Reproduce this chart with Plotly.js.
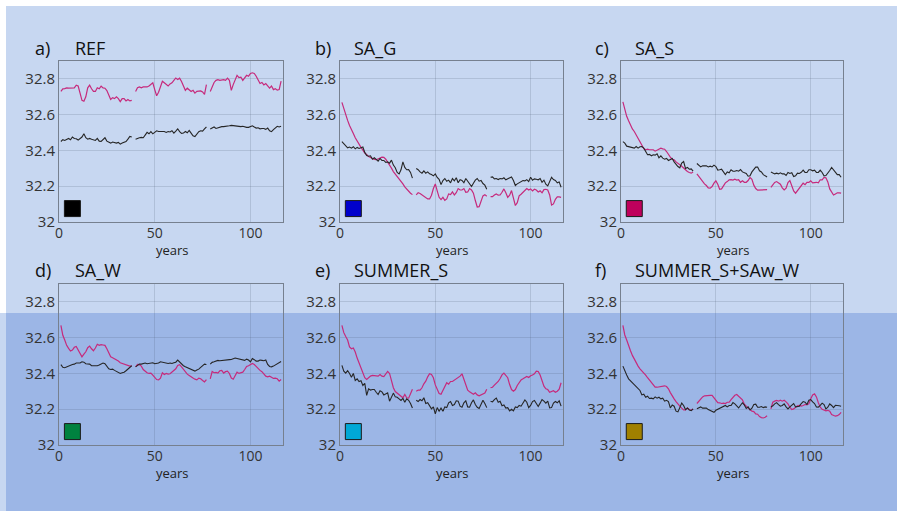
<!DOCTYPE html>
<html><head><meta charset="utf-8">
<script src="https://cdn.plot.ly/plotly-3.0.1.min.js"></script>
<style>html,body{margin:0;padding:0;background:#fff;}#chart{width:897px;height:511px;}</style>
</head><body><div id="chart"></div>
<script>
// ---------- data ----------
const years = Array.from({length:116},(_,i)=>i+1);
const panelLetters = ['a)','b)','c)','d)','e)','f)'];
const panelNames = ['REF','SA_G','SA_S','SA_W','SUMMER_S','SUMMER_S+SAw_W'];
const squareColors = ['#000000','#0000cc','#bf005c','#00823f','#00a8d6','#a08000'];
const squareX = [7,7,7,7,7,7];
const squareY = [32.075,32.075,32.075,32.075,32.075,32.075];
const xTickVals = [0,50,100];
const xTickText = ['0','50','100'];
const yTickVals = [32,32.2,32.4,32.6,32.8];
const yTickText = ['32','32.2','32.4','32.6','32.8'];

const refP = [32.73,32.744,32.746,32.75,32.748,32.748,32.75,32.75,32.765,32.76,
32.72,32.68,32.675,32.70,32.75,32.765,32.745,32.73,32.73,32.75,
32.745,32.76,32.75,32.748,32.735,32.71,32.685,32.695,32.69,32.70,
32.69,32.673,32.69,32.69,32.677,32.685,32.677,32.68,null,32.73,
32.75,32.755,32.75,32.755,32.753,32.755,32.76,32.77,32.778,32.74,
32.706,32.725,32.76,32.787,32.778,32.768,32.76,32.772,32.778,32.792,
32.805,32.796,32.804,32.785,32.762,32.736,32.748,32.736,32.73,32.736,
32.72,32.73,32.73,32.733,32.727,32.714,32.768,null,32.73,32.76,
32.78,32.792,32.796,32.792,32.796,32.796,32.792,32.804,32.792,32.736,
32.768,32.8,32.82,32.807,32.81,32.792,32.805,32.82,32.815,32.83,
32.834,32.83,32.815,32.796,32.774,32.78,32.766,32.774,32.76,32.748,
32.76,32.74,32.745,32.737,32.74,32.787];
const refK = [32.45,32.46,32.456,32.463,32.467,32.46,32.475,32.467,32.465,32.458,
32.467,32.475,32.493,32.471,32.463,32.467,32.462,32.46,32.456,32.467,
32.452,32.45,32.463,32.471,32.452,32.445,32.441,32.447,32.445,32.441,
32.445,32.435,32.441,32.445,32.45,32.463,32.478,32.475,null,32.463,
32.469,32.471,32.473,32.471,32.486,32.501,32.493,32.505,32.493,32.503,
32.51,32.506,32.508,32.506,32.506,32.501,32.506,32.503,32.51,32.497,
32.508,32.521,32.505,32.495,32.497,32.506,32.499,32.512,32.497,32.482,
32.478,32.492,32.505,32.51,32.508,32.521,32.531,null,32.52,32.525,
32.531,32.523,32.527,32.531,32.533,32.533,32.536,32.538,32.538,32.54,
32.538,32.536,32.538,32.535,32.533,32.535,32.531,32.529,32.529,32.533,
32.538,32.531,32.525,32.527,32.521,32.523,32.523,32.518,32.525,32.51,
32.505,32.516,32.523,32.535,32.531,32.535];
const sagP = [32.669,32.632,32.591,32.568,32.54,32.52,32.495,32.471,32.45,32.432,
32.417,32.402,32.385,32.378,32.366,32.361,32.355,32.35,32.348,32.351,
32.357,32.363,32.361,32.351,32.336,32.32,32.301,32.282,32.269,32.256,
32.241,32.228,32.213,32.196,32.183,32.174,32.161,32.153,null,32.151,
32.164,32.159,32.151,32.144,32.136,32.129,32.129,32.15,32.187,32.213,
32.174,32.138,32.125,32.138,32.121,32.129,32.157,32.153,32.168,32.151,
32.164,32.187,32.179,32.179,32.187,32.166,32.168,32.187,32.179,32.161,
32.12,32.084,32.086,32.114,32.146,32.153,32.144,null,32.142,32.142,
32.151,32.157,32.15,32.151,32.166,32.185,32.164,32.138,32.15,32.176,
32.133,32.092,32.108,32.146,32.155,32.164,32.176,32.187,32.179,32.185,
32.174,32.183,32.179,32.168,32.174,32.163,32.181,32.183,32.179,32.151,
32.095,32.101,32.127,32.14,32.14,32.138];
const sagK = [32.449,32.437,32.426,32.415,32.419,32.413,32.421,32.409,32.417,32.411,
32.415,32.419,32.389,32.372,32.368,32.37,32.351,32.359,32.35,32.34,
32.355,32.344,32.344,32.333,32.336,32.329,32.346,32.318,32.303,32.277,
32.269,32.292,32.336,32.305,32.292,32.293,32.277,32.245,null,32.299,
32.292,32.28,32.273,32.286,32.273,32.28,32.269,32.265,32.258,32.269,
32.249,32.239,32.209,32.232,32.243,32.228,32.234,32.219,32.243,32.23,
32.247,32.219,32.237,32.232,32.219,32.243,32.228,32.211,32.198,32.217,
32.234,32.243,32.228,32.232,32.215,32.206,32.183,null,32.25,32.252,
32.241,32.243,32.237,32.243,32.241,32.247,32.236,32.241,32.249,32.252,
32.232,32.204,32.213,32.219,32.228,32.232,32.23,32.237,32.226,32.25,
32.234,32.241,32.239,32.236,32.243,32.222,32.234,32.211,32.202,32.228,
32.25,32.237,32.232,32.219,32.224,32.194];
const sasP = [32.671,32.628,32.591,32.566,32.54,32.52,32.506,32.488,32.467,32.447,
32.426,32.411,32.404,32.407,32.404,32.404,32.404,32.396,32.402,32.407,
32.413,32.409,32.407,32.394,32.376,32.363,32.351,32.348,32.336,32.325,
32.32,32.312,32.301,32.292,32.282,32.277,32.273,32.28,null,32.269,
32.254,32.245,32.23,32.213,32.204,32.191,32.189,32.198,32.217,32.23,
32.211,32.183,32.185,32.202,32.219,32.226,32.236,32.237,32.234,32.239,
32.234,32.236,32.222,32.23,32.222,32.222,32.232,32.249,32.239,32.206,
32.187,32.178,32.178,32.179,32.179,32.179,32.181,null,32.194,32.209,
32.221,32.226,32.217,32.211,32.191,32.179,32.189,32.221,32.232,32.207,
32.174,32.161,32.176,32.194,32.209,32.217,32.209,32.221,32.221,32.23,
32.219,32.221,32.222,32.219,32.236,32.236,32.249,32.247,32.224,32.185,
32.164,32.151,32.157,32.163,32.163,32.161];
const sasK = [32.449,32.441,32.424,32.422,32.419,32.419,32.413,32.422,32.413,32.421,
32.422,32.413,32.392,32.376,32.378,32.37,32.376,32.374,32.381,32.359,
32.37,32.357,32.351,32.355,32.344,32.348,32.355,32.336,32.321,32.31,
32.303,32.329,32.338,32.299,32.305,32.295,32.297,32.284,null,32.327,
32.32,32.308,32.314,32.314,32.314,32.308,32.312,32.308,32.318,32.31,
32.29,32.292,32.295,32.28,32.265,32.28,32.275,32.292,32.284,32.284,
32.288,32.284,32.293,32.28,32.275,32.271,32.256,32.258,32.28,32.292,
32.307,32.307,32.286,32.28,32.265,32.258,32.252,null,32.28,32.275,
32.269,32.273,32.269,32.275,32.269,32.269,32.26,32.277,32.271,32.275,
32.254,32.258,32.273,32.271,32.278,32.29,32.277,32.277,32.292,32.292,
32.286,32.29,32.277,32.277,32.29,32.277,32.258,32.26,32.271,32.288,
32.305,32.29,32.277,32.265,32.265,32.25];
const sawP = [32.669,32.613,32.587,32.557,32.54,32.525,32.531,32.546,32.551,32.531,
32.508,32.493,32.508,32.521,32.544,32.553,32.538,32.527,32.542,32.563,
32.557,32.561,32.559,32.557,32.538,32.512,32.493,32.488,32.482,32.477,
32.469,32.46,32.456,32.45,32.45,32.443,32.441,32.443,null,32.437,
32.45,32.449,32.441,32.422,32.411,32.404,32.4,32.402,32.391,32.378,
32.366,32.364,32.374,32.404,32.394,32.4,32.396,32.398,32.406,32.419,
32.426,32.445,32.449,32.437,32.422,32.407,32.396,32.389,32.379,32.374,
32.368,32.364,32.374,32.37,32.361,32.353,32.366,null,32.37,32.411,
32.404,32.406,32.402,32.415,32.417,32.402,32.41,32.413,32.4,32.374,
32.368,32.385,32.407,32.4,32.404,32.407,32.422,32.439,32.443,32.452,
32.456,32.45,32.439,32.424,32.417,32.41,32.394,32.385,32.381,32.385,
32.379,32.372,32.374,32.37,32.357,32.366];
const sawK = [32.449,32.434,32.432,32.437,32.441,32.445,32.45,32.452,32.458,32.458,
32.458,32.465,32.463,32.454,32.452,32.452,32.443,32.443,32.439,32.443,
32.447,32.452,32.458,32.454,32.437,32.426,32.422,32.424,32.417,32.411,
32.406,32.4,32.404,32.407,32.415,32.424,32.435,32.443,null,32.437,
32.445,32.452,32.452,32.456,32.458,32.454,32.456,32.456,32.46,32.454,
32.454,32.458,32.465,32.463,32.458,32.458,32.456,32.458,32.456,32.46,
32.463,32.475,32.463,32.45,32.443,32.437,32.432,32.426,32.422,32.417,
32.413,32.419,32.424,32.434,32.445,32.452,32.45,null,32.452,32.462,
32.465,32.469,32.473,32.471,32.473,32.473,32.477,32.475,32.477,32.478,
32.484,32.486,32.484,32.482,32.478,32.475,32.473,32.48,32.475,32.465,
32.484,32.477,32.469,32.469,32.475,32.473,32.471,32.475,32.45,32.439,
32.437,32.441,32.447,32.454,32.462,32.467];
const sumP = [32.669,32.628,32.606,32.587,32.548,32.538,32.542,32.52,32.486,32.46,
32.426,32.4,32.376,32.366,32.376,32.385,32.389,32.389,32.385,32.385,
32.394,32.385,32.383,32.396,32.411,32.4,32.361,32.32,32.299,32.29,
32.286,32.273,32.264,32.282,32.264,32.262,32.286,32.312,null,32.301,
32.307,32.307,32.32,32.342,32.357,32.381,32.398,32.394,32.376,32.336,
32.307,32.288,32.284,32.307,32.329,32.348,32.34,32.355,32.355,32.363,
32.368,32.376,32.385,32.398,32.37,32.338,32.307,32.297,32.292,32.284,
32.292,32.28,32.275,32.28,32.286,32.29,32.312,null,32.321,32.323,
32.335,32.344,32.355,32.372,32.392,32.402,32.391,32.376,32.338,32.31,
32.301,32.31,32.333,32.351,32.364,32.37,32.379,32.383,32.377,32.387,
32.391,32.398,32.413,32.411,32.391,32.359,32.329,32.314,32.31,32.295,
32.301,32.303,32.295,32.301,32.312,32.348];
const sumK = [32.445,32.413,32.402,32.415,32.4,32.379,32.4,32.361,32.37,32.355,
32.359,32.333,32.344,32.277,32.314,32.307,32.31,32.31,32.295,32.282,
32.303,32.297,32.28,32.288,32.292,32.245,32.269,32.29,32.269,32.267,
32.258,32.249,32.26,32.239,32.258,32.25,32.232,32.207,null,32.25,
32.243,32.254,32.247,32.264,32.232,32.236,32.221,32.202,32.213,32.174,
32.209,32.189,32.206,32.189,32.213,32.209,32.236,32.243,32.221,32.226,
32.247,32.245,32.217,32.211,32.236,32.247,32.213,32.211,32.236,32.252,
32.226,32.211,32.204,32.226,32.25,32.232,32.209,null,32.245,32.241,
32.254,32.262,32.239,32.245,32.219,32.224,32.206,32.209,32.191,32.2,
32.191,32.213,32.209,32.221,32.217,32.232,32.252,32.239,32.209,32.221,
32.243,32.249,32.23,32.215,32.234,32.254,32.245,32.234,32.245,32.207,
32.209,32.234,32.243,32.236,32.247,32.217];
const sswP = [32.669,32.615,32.587,32.553,32.527,32.501,32.478,32.458,32.441,32.426,
32.415,32.406,32.391,32.376,32.361,32.348,32.335,32.323,32.323,32.325,
32.329,32.329,32.331,32.327,32.314,32.293,32.273,32.258,32.243,32.228,
32.217,32.206,32.196,32.196,32.206,32.198,32.194,32.202,null,32.232,
32.245,32.258,32.269,32.275,32.277,32.277,32.277,32.277,32.264,32.25,
32.237,32.236,32.232,32.234,32.232,32.239,32.239,32.254,32.267,32.278,
32.282,32.273,32.264,32.252,32.228,32.215,32.206,32.198,32.189,32.187,
32.174,32.172,32.159,32.153,32.151,32.155,32.163,null,32.202,32.239,
32.245,32.249,32.245,32.25,32.245,32.25,32.241,32.23,32.211,32.198,
32.202,32.209,32.219,32.221,32.217,32.221,32.226,32.226,32.23,32.258,
32.28,32.286,32.269,32.236,32.211,32.2,32.196,32.191,32.194,32.189,
32.17,32.164,32.161,32.164,32.17,32.183];
const sswK = [32.441,32.413,32.391,32.37,32.359,32.351,32.338,32.331,32.318,32.305,
32.28,32.284,32.267,32.273,32.26,32.262,32.258,32.269,32.262,32.267,
32.258,32.262,32.245,32.25,32.243,32.207,32.224,32.217,32.189,32.185,
32.209,32.234,32.221,32.198,32.207,32.196,32.192,32.202,null,32.202,
32.207,32.213,32.206,32.206,32.207,32.198,32.194,32.189,32.183,32.194,
32.2,32.202,32.211,32.215,32.221,32.213,32.221,32.221,32.237,32.23,
32.217,32.207,32.222,32.236,32.224,32.204,32.213,32.196,32.206,32.226,
32.228,32.211,32.211,32.215,32.209,32.213,32.211,null,32.213,32.219,
32.23,32.237,32.226,32.217,32.221,32.23,32.213,32.202,32.213,32.224,
32.232,32.213,32.217,32.217,32.232,32.243,32.239,32.226,32.25,32.254,
32.241,32.232,32.213,32.211,32.222,32.234,32.226,32.202,32.211,32.23,
32.221,32.209,32.222,32.222,32.219,32.217];

const pinkSeries = [refP, sagP, sasP, sawP, sumP, sswP];
const blackSeries = [refK, sagK, sasK, sawK, sumK, sswK];

// ---------- layout / style ----------
const W = 897, H = 511;
const colL = [59, 340, 621], colR = [283, 563, 843];
const rowT = [61, 284], rowB = [222, 445];
const FONT = 'Open Sans, Noto Sans, sans-serif';
const pinkColor = '#c62a7c', blackColor = '#262626';
const frameColor = '#76808f', gridColor = 'rgba(80,95,120,0.2)';
const lightBg = '#c7d7f1', darkBg = '#9cb6e6';

const px = v => v / W, py = v => 1 - v / H;

const traces = [];
const layout = {
  width: W, height: H,
  margin: {l:0, r:0, t:0, b:0},
  paper_bgcolor: '#ffffff',
  plot_bgcolor: 'rgba(0,0,0,0)',
  showlegend: false,
  font: {family: FONT, color: '#333'},
  shapes: [
    {type:'rect', xref:'paper', yref:'paper', x0:px(6), x1:1, y0:py(313), y1:py(6), fillcolor:lightBg, line:{width:0}, layer:'below'},
    {type:'rect', xref:'paper', yref:'paper', x0:px(6), x1:1, y0:0, y1:py(313), fillcolor:darkBg, line:{width:0}, layer:'below'},
    {type:'rect', xref:'paper', yref:'paper', x0:0, x1:px(6), y0:0, y1:py(313), fillcolor:lightBg, line:{width:0}, layer:'below'}
  ],
  annotations: []
};

for (let i = 0; i < 6; i++) {
  const n = i + 1, c = i % 3, r = Math.floor(i / 3);
  const xa = 'x' + (n === 1 ? '' : n), ya = 'y' + (n === 1 ? '' : n);
  traces.push({x: years, y: pinkSeries[i], xaxis: xa, yaxis: ya, type: 'scatter', mode: 'lines',
    line: {color: pinkColor, width: 1.2}, connectgaps: false, hoverinfo: 'skip'});
  traces.push({x: years, y: blackSeries[i], xaxis: xa, yaxis: ya, type: 'scatter', mode: 'lines',
    line: {color: blackColor, width: 1.1}, connectgaps: false, hoverinfo: 'skip'});
  traces.push({x: [squareX[i]], y: [squareY[i]], xaxis: xa, yaxis: ya, type: 'scatter', mode: 'markers',
    marker: {symbol: 'square', size: 16, color: squareColors[i], line: {color: '#1a1a1a', width: 1}}, hoverinfo: 'skip'});

  const axKey = n === 1 ? '' : n;
  layout['xaxis' + axKey] = {
    domain: [px(colL[c]), px(colR[c])], anchor: ya, range: [0, 117],
    tickmode: 'array', tickvals: xTickVals, ticktext: xTickText,
    showline: true, mirror: true, linecolor: frameColor, linewidth: 1,
    showgrid: true, gridcolor: gridColor, gridwidth: 1, zeroline: false,
    ticks: '', ticklabelstandoff: -2, tickfont: {family: FONT, size: 14, color: '#333'}, fixedrange: true
  };
  layout['yaxis' + axKey] = {
    domain: [py(rowB[r]), py(rowT[r])], anchor: xa, range: [32, 32.9],
    tickmode: 'array', tickvals: yTickVals, ticktext: yTickText,
    showline: true, mirror: true, linecolor: frameColor, linewidth: 1,
    showgrid: true, gridcolor: gridColor, gridwidth: 1, zeroline: false,
    ticks: '', tickfont: {family: FONT, size: 15, color: '#333'}, fixedrange: true
  };

  const letterX = [33, 313, 593][c];
  const nameX = [73, 352, 633][c];
  const titleY = [48, 270][r];
  layout.annotations.push({xref:'paper', yref:'paper', x:px(letterX), y:py(titleY), xanchor:'left', yanchor:'middle',
    text: panelLetters[i], showarrow:false, font:{family:FONT, size:18, color:'#111'}});
  layout.annotations.push({xref:'paper', yref:'paper', x:px(nameX), y:py(titleY), xanchor:'left', yanchor:'middle',
    text: panelNames[i], showarrow:false, font:{family:FONT, size:18, color:'#111'}});
  layout.annotations.push({xref:'paper', yref:'paper', x:px((colL[c]+colR[c])/2 + 1), y:py(rowB[r] + 28), xanchor:'center', yanchor:'middle',
    text: 'years', showarrow:false, font:{family:FONT, size:13, color:'#222'}});
}

Plotly.newPlot('chart', traces, layout, {displayModeBar: false, staticPlot: true});
</script>
</body></html>
